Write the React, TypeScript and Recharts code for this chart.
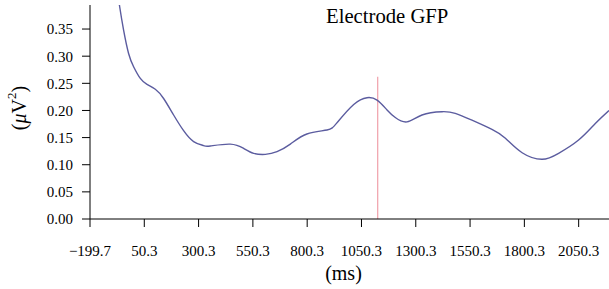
import React from "react";
import { LineChart, Line, XAxis, YAxis, ReferenceLine } from "recharts";

const timesMs = [-75, -63.4, -45, -22, 1.1, 32, 62.8, 101, 139.2, 185.3, 231.3, 277.4, 323.4, 354, 446, 508, 554, 607.6, 661.5, 722.7, 799, 891.7, 937.7, 1014.5, 1075.9, 1122, 1168, 1206, 1260, 1329, 1421, 1482, 1559, 1651, 1713, 1790, 1882, 1958, 2050, 2127, 2190];
const gfpValues = [0.425, 0.392, 0.348, 0.305, 0.2806, 0.259, 0.248, 0.239, 0.222, 0.1916, 0.1627, 0.1427, 0.1352, 0.1345, 0.138, 0.13, 0.121, 0.119, 0.124, 0.138, 0.1566, 0.164, 0.1774, 0.211, 0.2235, 0.219, 0.201, 0.187, 0.179, 0.1916, 0.1977, 0.1947, 0.182, 0.165, 0.1487, 0.122, 0.11, 0.121, 0.1455, 0.176, 0.2];
const xTicks = [-199.7, 50.3, 300.3, 550.3, 800.3, 1050.3, 1300.3, 1550.3, 1800.3, 2050.3];
const yTicks = [0, 0.05, 0.1, 0.15, 0.2, 0.25, 0.3, 0.35];
const markerMs = 1125;
const markerTop = 0.262;

const data = timesMs.map((t, i) => ({ t, v: gfpValues[i] }));

const FONT = "'Liberation Serif', 'DejaVu Serif', serif";

const fmtX = (v: number) => (v < 0 ? "\u2212" + Math.abs(v).toFixed(1) : v.toFixed(1));

const YLabel = (props: any) => {
  const vb = props.viewBox || { x: 0, y: 0, width: 90, height: 214 };
  const cx = 19;
  const cy = vb.y + vb.height / 2 - 4;
  return (
    <text
      x={cx}
      y={cy}
      transform={`rotate(-90, ${cx}, ${cy})`}
      textAnchor="middle"
      dominantBaseline="central"
      fontFamily={FONT}
      fontSize={20}
      fill="#000"
    >
      (<tspan fontStyle="italic">μ</tspan>V<tspan baselineShift="super" fontSize={13}>2</tspan>)
    </text>
  );
};

const XLabel = (props: any) => {
  const vb = props.viewBox || { x: 90, y: 219, width: 519, height: 70 };
  return (
    <text
      x={vb.x + vb.width / 2 - 6}
      y={273}
      textAnchor="middle"
      dominantBaseline="central"
      fontFamily={FONT}
      fontSize={20}
      fill="#000"
    >
      (ms)
    </text>
  );
};

export default function App() {
  return (
    <div style={{ position: "absolute", left: 0, top: 0, width: 609, height: 289, background: "#fff" }}>
      <LineChart width={609} height={289} data={data} margin={{ top: 5, right: 0, bottom: 0, left: 0 }}>
        <XAxis
          dataKey="t"
          type="number"
          domain={[-199.7, 2190]}
          ticks={xTicks}
          tickFormatter={fmtX}
          allowDataOverflow
          height={70}
          tickSize={8}
          tickMargin={18}
          stroke="#000"
          tick={{ fill: "#000", fontFamily: FONT, fontSize: 15 }}
          label={{ content: XLabel } as any}
        />
        <YAxis
          type="number"
          domain={[0, 0.3943]}
          ticks={yTicks}
          allowDataOverflow
          width={90}
          tickSize={8}
          tickMargin={9}
          stroke="#000"
          tickFormatter={(v: number) => v.toFixed(2)}
          tick={{ fill: "#000", fontFamily: FONT, fontSize: 15 }}
          label={{ content: YLabel } as any}
        />
        <ReferenceLine
          segment={[{ x: markerMs, y: 0 }, { x: markerMs, y: markerTop }]}
          stroke="#f0a0aa"
          strokeWidth={1.2}
          ifOverflow="visible"
        />
        <Line
          dataKey="v"
          type="natural"
          stroke="#5b5c9f"
          strokeWidth={1.4}
          dot={false}
          isAnimationActive={false}
        />
      </LineChart>
      <div
        style={{
          position: "absolute",
          left: 326,
          top: 4,
          fontFamily: FONT,
          fontSize: 20.7,
          lineHeight: "24px",
          color: "#000",
          whiteSpace: "nowrap",
        }}
      >
        Electrode GFP
      </div>
    </div>
  );
}
